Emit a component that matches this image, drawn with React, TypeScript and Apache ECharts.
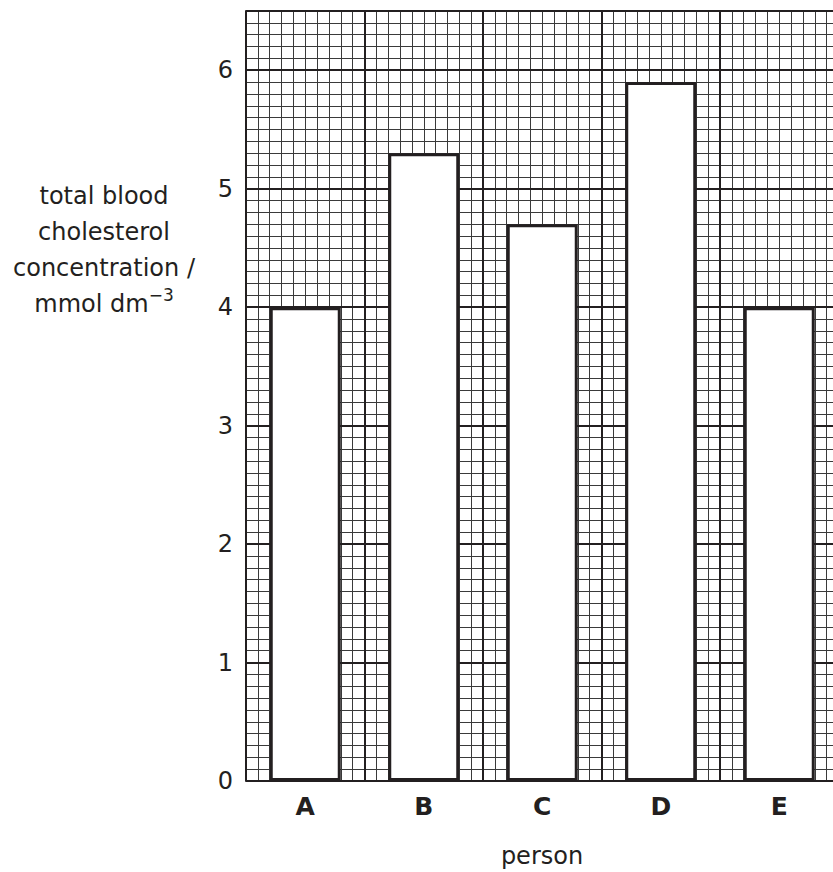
import React, { useEffect, useRef } from "react";
import * as echarts from "echarts";

const persons = ["A", "B", "C", "D", "E"];
const cholesterol = [4.0, 5.3, 4.7, 5.9, 4.0];
const yTicks = [0, 1, 2, 3, 4, 5, 6];
const yTitleLines = ["total blood", "cholesterol", "concentration /", "mmol dm"];
const yTitleSup = "\u22123";
const xTitle = "person";

const FONT = "DejaVu Sans";
const INK = "#231f20";

export default function App() {
  const ref = useRef<HTMLDivElement>(null);
  useEffect(() => {
    if (!ref.current) return;
    const chart = echarts.init(ref.current, undefined, { renderer: "svg" });
    const minorLine = { show: true, lineStyle: { color: "#3a3a3a", width: 1 } };
    const majorLine = { show: true, lineStyle: { color: INK, width: 2 } };
    const titleText = yTitleLines
      .map((l, i) => (i === yTitleLines.length - 1 ? `{a|${l}}{s|${yTitleSup}}` : `{a|${l}}`))
      .join("\n");
    chart.setOption({
      animation: false,
      backgroundColor: "#ffffff",
      grid: { left: 246, top: 11, width: 592.5, height: 770, containLabel: false },
      xAxis: [
        {
          type: "category",
          data: persons,
          z: 3,
          axisLine: { show: false },
          axisTick: { show: false },
          splitLine: { show: false },
          axisLabel: { margin: 13, fontSize: 25, fontWeight: "bold", fontFamily: FONT, color: INK },
        },
        {
          type: "value",
          min: 0,
          max: 50,
          interval: 1,
          z: 0,
          axisLine: { show: false },
          axisTick: { show: false },
          axisLabel: { show: false },
          splitLine: minorLine,
        },
        {
          type: "value",
          min: 0,
          max: 5,
          interval: 1,
          z: 1,
          axisLine: { show: false },
          axisTick: { show: false },
          axisLabel: { show: false },
          splitLine: majorLine,
        },
      ],
      yAxis: [
        {
          type: "value",
          min: 0,
          max: 6.5,
          interval: 1,
          z: 1,
          axisLine: { show: true, lineStyle: { color: INK, width: 2 } },
          axisTick: { show: false },
          splitLine: majorLine,
          axisLabel: {
            margin: 13,
            fontSize: 24,
            fontFamily: FONT,
            color: INK,
            formatter: (v: number) => (yTicks.includes(v) ? String(v) : ""),
          },
        },
        {
          type: "value",
          min: 0,
          max: 65,
          interval: 1,
          z: 0,
          axisLine: { show: false },
          axisTick: { show: false },
          axisLabel: { show: false },
          splitLine: minorLine,
        },
      ],
      graphic: [
        {
          type: "text",
          x: 104,
          y: 250,
          style: {
            text: titleText,
            align: "center",
            verticalAlign: "middle",
            rich: {
              a: { fontSize: 24, fontFamily: FONT, lineHeight: 36, fill: INK },
              s: { fontSize: 17, fontFamily: FONT, lineHeight: 26, verticalAlign: "top", fill: INK },
            },
          },
        },
        {
          type: "text",
          x: 542,
          y: 856,
          style: {
            text: xTitle,
            align: "center",
            verticalAlign: "middle",
            fontSize: 24,
            fontFamily: FONT,
            fill: INK,
          },
        },
      ],
      series: [
        {
          type: "bar",
          xAxisIndex: 0,
          yAxisIndex: 0,
          data: cholesterol,
          barWidth: 71,
          z: 5,
          itemStyle: { color: "#ffffff", borderColor: INK, borderWidth: 3 },
        },
      ],
    });
    return () => chart.dispose();
  }, []);
  return (
    <div style={{ position: "fixed", left: 0, top: 0, width: 833, height: 872, overflow: "hidden", background: "#fff" }}>
      <div ref={ref} style={{ width: 850, height: 872 }} />
    </div>
  );
}
